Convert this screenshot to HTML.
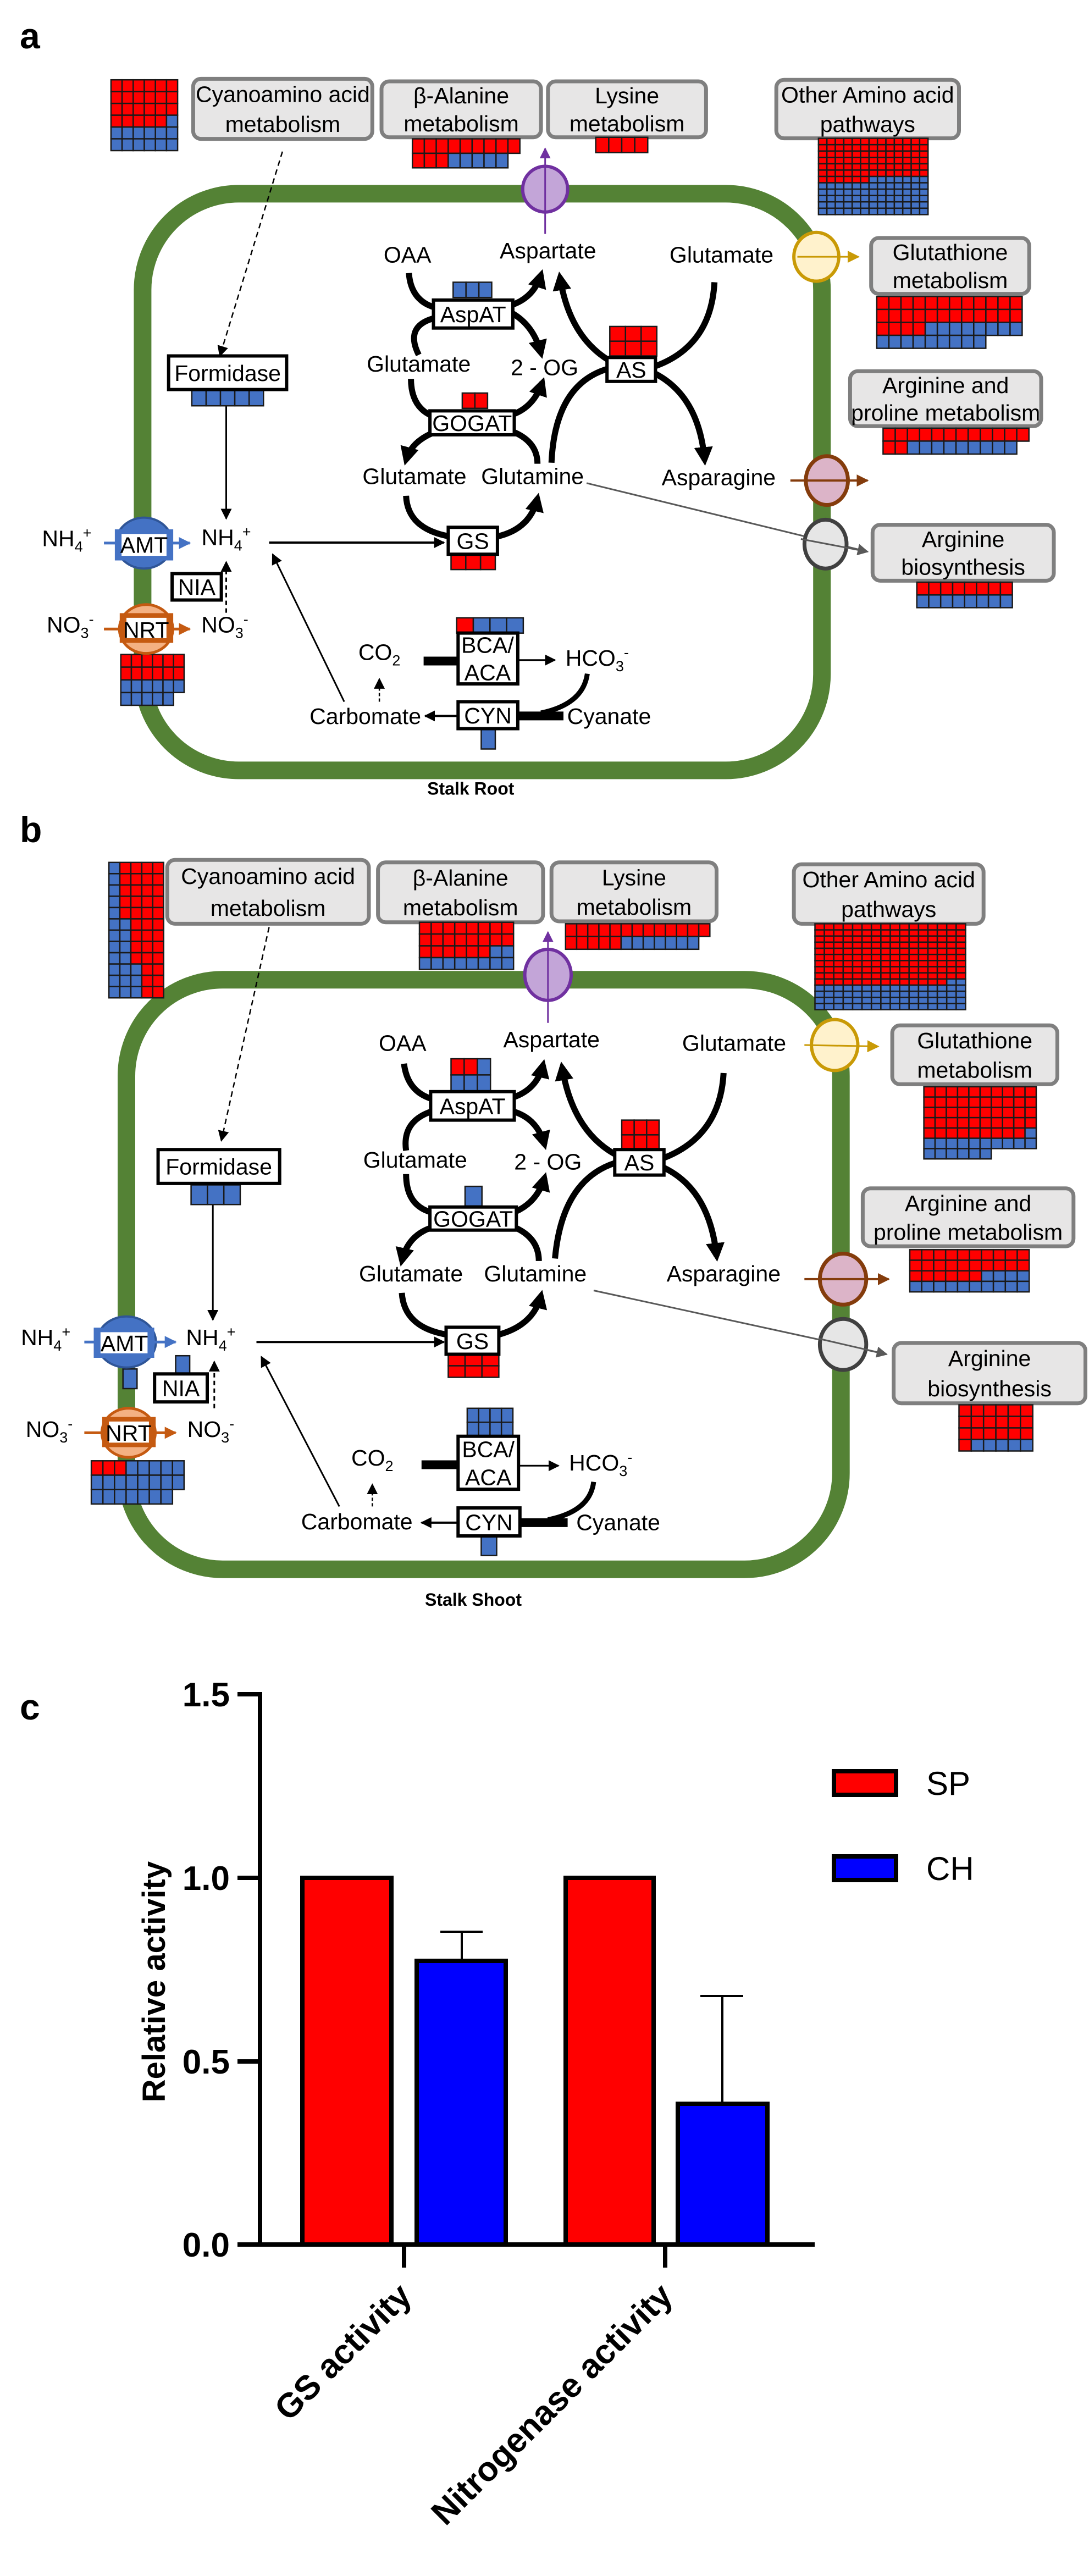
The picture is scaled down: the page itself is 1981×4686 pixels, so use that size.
<!DOCTYPE html>
<html><head><meta charset="utf-8"><style>
html,body{margin:0;padding:0;background:#fff;}
svg{display:block;font-family:"Liberation Sans",Arial,sans-serif;}
</style></head><body>
<svg id="s" xmlns="http://www.w3.org/2000/svg" width="1981" height="4686" viewBox="0 0 1981 4686">
<defs>
<marker id="ab" viewBox="0 0 10 10" refX="7" refY="5" markerWidth="34" markerHeight="34" markerUnits="userSpaceOnUse" orient="auto"><path d="M0,0 L10,5 L0,10z" fill="#000"/></marker>
<marker id="as" viewBox="0 0 10 10" refX="9" refY="5" markerWidth="20" markerHeight="20" markerUnits="userSpaceOnUse" orient="auto"><path d="M0,0 L10,5 L0,10z" fill="#000"/></marker>
<marker id="ag" viewBox="0 0 10 10" refX="9" refY="5" markerWidth="20" markerHeight="20" markerUnits="userSpaceOnUse" orient="auto"><path d="M0,0 L10,5 L0,10z" fill="#595959"/></marker>
<marker id="ap" viewBox="0 0 10 10" refX="9" refY="5" markerWidth="20" markerHeight="20" markerUnits="userSpaceOnUse" orient="auto"><path d="M0,0 L10,5 L0,10z" fill="#7030a0"/></marker>
<marker id="ay" viewBox="0 0 10 10" refX="9" refY="5" markerWidth="22" markerHeight="22" markerUnits="userSpaceOnUse" orient="auto"><path d="M0,0 L10,5 L0,10z" fill="#c99a06"/></marker>
<marker id="ao" viewBox="0 0 10 10" refX="9" refY="5" markerWidth="22" markerHeight="22" markerUnits="userSpaceOnUse" orient="auto"><path d="M0,0 L10,5 L0,10z" fill="#843c0c"/></marker>
<marker id="abl" viewBox="0 0 10 10" refX="9" refY="5" markerWidth="22" markerHeight="22" markerUnits="userSpaceOnUse" orient="auto"><path d="M0,0 L10,5 L0,10z" fill="#4472c4"/></marker>
<marker id="aor" viewBox="0 0 10 10" refX="9" refY="5" markerWidth="22" markerHeight="22" markerUnits="userSpaceOnUse" orient="auto"><path d="M0,0 L10,5 L0,10z" fill="#c55a11"/></marker>
</defs>
<g id="dyn"></g>
<g>
<text x="36" y="3128" font-size="66" font-weight="bold">c</text>
<line x1="473" y1="3078" x2="473" y2="4087" stroke="#000" stroke-width="8"/>
<line x1="432" y1="4083" x2="1482" y2="4083" stroke="#000" stroke-width="8"/>
<g stroke="#000" stroke-width="8">
<line x1="432" y1="3082" x2="473" y2="3082"/><line x1="432" y1="3416" x2="473" y2="3416"/>
<line x1="432" y1="3750" x2="473" y2="3750"/><line x1="735" y1="4083" x2="735" y2="4125"/>
<line x1="1210" y1="4083" x2="1210" y2="4125"/>
</g>
<g font-size="62" font-weight="bold" text-anchor="end">
<text x="418" y="3104">1.5</text><text x="418" y="3438">1.0</text>
<text x="418" y="3772">0.5</text><text x="418" y="4105">0.0</text>
</g>
<text transform="translate(300,3605) rotate(-90)" font-size="58" font-weight="bold" text-anchor="middle">Relative activity</text>
<g stroke="#000" stroke-width="8">
<rect x="550" y="3416" width="162" height="667" fill="#ff0000"/>
<rect x="758" y="3567" width="162" height="516" fill="#0000ff"/>
<rect x="1029" y="3416" width="160" height="667" fill="#ff0000"/>
<rect x="1233" y="3827" width="163" height="256" fill="#0000ff"/>
</g>
<g stroke="#000" stroke-width="4">
<line x1="840" y1="3567" x2="840" y2="3514"/><line x1="801" y1="3514" x2="878" y2="3514"/>
<line x1="1314" y1="3827" x2="1314" y2="3631"/><line x1="1274" y1="3631" x2="1352" y2="3631"/>
</g>
<rect x="1517" y="3222" width="113" height="43" fill="#ff0000" stroke="#000" stroke-width="8"/>
<rect x="1517" y="3377" width="113" height="43" fill="#0000ff" stroke="#000" stroke-width="8"/>
<text x="1685" y="3265" font-size="60">SP</text>
<text x="1685" y="3420" font-size="60">CH</text>
<g font-size="62" font-weight="bold" text-anchor="end">
<text transform="translate(752,4180) rotate(-45)">GS activity</text>
<text transform="translate(1227,4180) rotate(-45)">Nitrogenase activity</text>
</g>
</g>
</svg>
<script>
(function(){
var out='';
function mk(sx,sy,oy){return {sx:sx,sy:sy,X:function(z){return z*sx;},Y:function(z){return oy+z*sy;}};}
var A=mk(1.278,0.925,0), B=mk(1.278,0.893,1450);
function rep(s,n){return s.repeat(n);}
function T(p,zx,zy,s,size,w){size=size||41;w=w||'normal';
 out+='<text x="'+p.X(zx).toFixed(1)+'" y="'+(p.Y(zy)+size*0.36).toFixed(1)+'" font-size="'+size+'" font-weight="'+w+'" text-anchor="middle">'+s+'</text>';}
function R(p,x1,y1,x2,y2,st,fill,sw,rx){rx=rx||0;
 out+='<rect x="'+p.X(x1).toFixed(1)+'" y="'+p.Y(y1).toFixed(1)+'" width="'+(p.X(x2)-p.X(x1)).toFixed(1)+'" height="'+(p.Y(y2)-p.Y(y1)).toFixed(1)+'" rx="'+rx+'" fill="'+fill+'" stroke="'+st+'" stroke-width="'+sw+'"/>';}
function G(p,x,y,cw,ch,rows){rows.forEach(function(r,i){for(var j=0;j<r.length;j++){var c=r[j];
 out+='<rect x="'+p.X(x+j*cw).toFixed(1)+'" y="'+p.Y(y+i*ch).toFixed(1)+'" width="'+(cw*p.sx).toFixed(1)+'" height="'+(ch*p.sy).toFixed(1)+'" fill="'+(c=='r'?'#ff0000':'#4472c4')+'" stroke="#1a1a1a" stroke-width="2.5"/>';}});}
function D(p,d){return d.replace(/(-?[\d.]+),(-?[\d.]+)/g,function(m,a,b){return p.X(+a).toFixed(1)+','+p.Y(+b).toFixed(1);});}
function P(p,d,col,sw,mk,dash){out+='<path d="'+D(p,d)+'" fill="none" stroke="'+col+'" stroke-width="'+sw+'"'+(mk?' marker-end="url(#'+mk+')"':'')+(dash?' stroke-dasharray="'+dash+'"':'')+'/>';}
function E(p,cx,cy,rx,ry,fill,st,sw){out+='<ellipse cx="'+p.X(cx).toFixed(1)+'" cy="'+p.Y(cy).toFixed(1)+'" rx="'+(rx*p.sx).toFixed(1)+'" ry="'+(ry*p.sy).toFixed(1)+'" fill="'+fill+'" stroke="'+st+'" stroke-width="'+sw+'"/>';}
var NH4='NH<tspan font-size="27" dy="10">4</tspan><tspan font-size="27" dy="-25">+</tspan>';
var NO3='NO<tspan font-size="27" dy="10">3</tspan><tspan font-size="27" dy="-25">-</tspan>';
var CO2='CO<tspan font-size="27" dy="10">2</tspan>';
var HCO3='HCO<tspan font-size="27" dy="10">3</tspan><tspan font-size="27" dy="-25">-</tspan>';
function gbox(p,x1,y1,x2,y2,l1,l2){R(p,x1,y1,x2,y2,'#7f7f7f','#e7e6e6',7,14);var cx=(x1+x2)/2,cy=(y1+y2)/2,dh=(y2-y1)*0.25;T(p,cx,cy-dh,l1);T(p,cx,cy+dh,l2);}
function ebox(p,x1,y1,x2,y2,l){R(p,x1,y1,x2,y2,'#000','#fff',6);T(p,(x1+x2)/2,(y1+y2)/2,l);}

var p=A;
out+='<text x="36" y="88" font-size="66" font-weight="bold">a</text>';
R(p,203,381,1170,1515,'#548235','none',32,175);
P(p,'M402,298 L313,700','#000',2.5,'as','10,7');
P(p,'M322,798 L322,1020','#000',3,'as');
P(p,'M383,1067 L632,1067','#000',4,'as');
P(p,'M490,1380 L388,1090','#000',3,'as');
P(p,'M322,1205 L322,1105','#000',3,'as','8,6');
P(p,'M540,1380 L540,1335','#000',2.5,'as','6,4');
P(p,'M603,1300 L652,1300','#000',16);
P(p,'M737,1298 L790,1298','#000',3,'as');
P(p,'M652,1408 L605,1408','#000',4,'as');
P(p,'M737,1408 L802,1408','#000',16);
P(p,'M836,1325 Q830,1385 770,1402','#000',9);
P(p,'M835,950 L1235,1085','#595959',3,'ag');
P(p,'M582,537 Q585,592 620,605','#000',11);
P(p,'M596,698 Q575,640 620,625','#000',11);
P(p,'M728,600 Q760,585 770,540','#000',11,'ab');
P(p,'M728,615 Q760,640 770,695','#000',11,'ab');
P(p,'M585,745 Q585,800 615,818','#000',11);
P(p,'M730,815 Q760,800 772,752','#000',11,'ab');
P(p,'M615,852 Q585,870 578,905','#000',11,'ab');
P(p,'M765,912 Q765,870 732,850','#000',11);
P(p,'M578,975 Q580,1040 640,1055','#000',11);
P(p,'M708,1055 Q755,1040 765,980','#000',11,'ab');
P(p,'M785,910 Q790,755 866,725','#000',11);
P(p,'M1017,555 Q1012,680 933,720','#000',11);
P(p,'M866,708 Q810,660 797,545','#000',11,'ab');
P(p,'M933,735 Q995,780 1003,905','#000',11,'ab');
gbox(p,275,155,530,273,'Cyanoamino acid','metabolism');
gbox(p,543,160,770,270,'β-Alanine','metabolism');
gbox(p,780,160,1005,270,'Lysine','metabolism');
gbox(p,1105,157,1365,272,'Other Amino acid','pathways');
gbox(p,1240,468,1465,578,'Glutathione','metabolism');
gbox(p,1210,730,1482,838,'Arginine and','proline metabolism');
gbox(p,1242,1032,1500,1142,'Arginine','biosynthesis');
G(p,158,157,15.8,23.2,['rrrrrr','rrrrrr','rrrrrr','rrrrrb','bbbbbb','bbbbbb']);
G(p,587,273,17,28.5,['rrrrrrrrr','rrrbbbbb']);
G(p,848,270,18.5,30,['rrrr']);
var o=[];for(var i=0;i<6;i++)o.push(rep('r',13));o.push('rrrrrrbbbbbbb');for(i=0;i<5;i++)o.push(rep('b',13));
G(p,1165,272,12,12.5,o);
G(p,645,555,18.3,30,['bbb']);
G(p,658,773,18,30,['rr']);
G(p,642,1090,21,30,['rrr']);
G(p,868,642,22.3,29,['rrr','rrr']);
G(p,273,768,20.4,30,['bbbbb']);
G(p,172,1287,15,25,['rrrrrr','rrrrrr','bbbbbb','bbbbb']);
G(p,650,1215,23.7,30,['rbbb']);
G(p,685,1433,20,40,['b']);
G(p,1248,583,17.25,25.5,[rep('r',12),rep('r',12),'rrrr'+rep('b',8),rep('b',9)]);
G(p,1257,842,17.3,25.5,[rep('r',12),'rr'+rep('b',9)]);
G(p,1305,1145,17,25,[rep('r',8),rep('b',8)]);
ebox(p,617,590,730,645,'AspAT');
ebox(p,612,808,732,855,'GOGAT');
ebox(p,638,1037,708,1090,'GS');
ebox(p,864,703,933,750,'AS');
ebox(p,240,700,408,766,'Formidase');
ebox(p,245,1128,315,1180,'NIA');
R(p,652,1245,737,1345,'#000','#fff',6);T(p,694,1268,'BCA/');T(p,694,1322,'ACA');
ebox(p,652,1380,737,1433,'CYN');
T(p,580,500,'OAA');T(p,780,492,'Aspartate');T(p,1027,500,'Glutamate');
T(p,596,715,'Glutamate');T(p,775,722,'2 - OG');T(p,590,936,'Glutamate');
T(p,758,936,'Glutamine');T(p,1023,938,'Asparagine');
T(p,95,1058,NH4);T(p,322,1056,NH4);T(p,100,1228,NO3);T(p,320,1228,NO3);
T(p,540,1282,CO2);T(p,850,1293,HCO3);T(p,520,1408,'Carbomate');T(p,867,1408,'Cyanate');
T(p,670,1550,'Stalk Root',32,'bold');
E(p,776,372,32,45,'#c3a5d8','#7030a0',6);
P(p,'M776,460 L776,292','#7030a0',3,'ap');
E(p,1162,505,32,48,'#fff2cc','#c99a06',6);
P(p,'M1135,505 L1222,505','#c99a06',3,'ay');
E(p,1177,945,30,48,'#dcb4c8','#843c0c',7);
P(p,'M1125,945 L1235,945','#843c0c',4,'ao');
E(p,1175,1070,30,48,'#e6e6e6','#404040',7);
P(p,'M1140,1060 L1235,1085','#595959',3,'ag');
E(p,205,1068,40,50,'#4472c4','#2f5597',4);
R(p,165,1043,245,1100,'#4472c4','#4472c4',4);R(p,173,1050,237,1093,'none','#fff',0);T(p,205,1071,'AMT');
P(p,'M148,1068 L168,1068','#4472c4',5);P(p,'M245,1068 L270,1068','#4472c4',5,'abl');
E(p,208,1237,38,48,'#f4b183','#c55a11',5);
R(p,172,1208,245,1262,'#c55a11','#c55a11',4);R(p,180,1215,237,1255,'none','#fff',0);T(p,208,1238,'NRT');
P(p,'M148,1237 L172,1237','#c55a11',5);P(p,'M245,1237 L270,1237','#c55a11',5,'aor');

p=B;
out+='<text x="36" y="1532" font-size="66" font-weight="bold">b</text>';
R(p,180,372,1197,1573,'#548235','none',32,175);
P(p,'M383,265 L315,700','#000',2.5,'as','10,7');
P(p,'M303,830 L303,1065','#000',3,'as');
P(p,'M365,1110 L632,1110','#000',4,'as');
P(p,'M483,1445 L372,1140','#000',3,'as');
P(p,'M305,1245 L305,1150','#000',3,'as','8,6');
P(p,'M530,1445 L530,1400','#000',2.5,'as','6,4');
P(p,'M600,1360 L652,1360','#000',16);
P(p,'M738,1362 L795,1362','#000',3,'as');
P(p,'M652,1478 L600,1478','#000',4,'as');
P(p,'M740,1478 L808,1478','#000',16);
P(p,'M845,1395 Q840,1455 780,1472','#000',9);
P(p,'M845,1005 L1262,1135','#595959',3,'ag');
P(p,'M575,543 Q580,600 615,615','#000',11);
P(p,'M578,720 Q572,660 615,640','#000',11);
P(p,'M730,612 Q765,595 773,545','#000',11,'ab');
P(p,'M730,640 Q765,655 775,708','#000',11,'ab');
P(p,'M578,768 Q578,830 612,845','#000',11);
P(p,'M733,845 Q765,825 775,775','#000',11,'ab');
P(p,'M612,878 Q580,895 572,945','#000',11,'ab');
P(p,'M767,945 Q767,900 735,878','#000',11);
P(p,'M572,1010 Q575,1080 636,1095','#000',11);
P(p,'M710,1095 Q760,1075 770,1015','#000',11,'ab');
P(p,'M790,940 Q800,780 876,745','#000',11);
P(p,'M1030,562 Q1025,690 945,735','#000',11);
P(p,'M876,728 Q815,680 800,550','#000',11,'ab');
P(p,'M945,755 Q1010,800 1020,935','#000',11,'ab');
gbox(p,238,128,525,258,'Cyanoamino acid','metabolism');
gbox(p,538,133,773,255,'β-Alanine','metabolism');
gbox(p,785,133,1020,253,'Lysine','metabolism');
gbox(p,1130,137,1400,258,'Other Amino acid','pathways');
gbox(p,1270,465,1505,585,'Glutathione','metabolism');
gbox(p,1228,797,1528,915,'Arginine and','proline metabolism');
gbox(p,1272,1112,1545,1235,'Arginine','biosynthesis');
o=[];for(i=0;i<5;i++)o.push('brrrr');for(i=0;i<4;i++)o.push('bbrrr');for(i=0;i<3;i++)o.push('bbbrr');
G(p,155,133,15.6,23,o);
G(p,597,255,16.75,24,[rep('r',8),rep('r',8),'rrrrrrbb',rep('b',8)]);
G(p,805,258,15.8,26,[rep('r',13),'rrrrr'+rep('b',7)]);
o=[];for(i=0;i<9;i++)o.push(rep('r',16));o.push(rep('r',14)+'bb');for(i=0;i<4;i++)o.push(rep('b',16));
G(p,1160,258,13.4,12.5,o);
G(p,642,533,18.7,33,['rrb','bbb']);
G(p,662,793,24,40,['b']);
G(p,638,1135,24,23.5,['rrr','rrr']);
G(p,885,658,17.7,30,['rrr','rrr']);
G(p,272,790,23.3,40,['bbb']);
G(p,175,1165,20,40,['b']);
G(p,250,1138,20,37,['b']);
G(p,130,1352,16.5,29.3,['rrrbbbbb',rep('b',8),rep('b',7)]);
G(p,665,1245,16.25,28.5,['bbbb','bbbb']);
G(p,685,1505,22,40,['b']);
G(p,1315,590,16,21,[rep('r',10),rep('r',10),rep('r',10),rep('r',10),rep('r',9)+'b',rep('b',10),rep('b',6)]);
G(p,1295,922,17,21.5,[rep('r',10),rep('r',10),'rrrrrrbbbb',rep('b',10)]);
G(p,1365,1238,17.5,23.5,[rep('r',6),rep('r',6),rep('r',6),'rbbbbb']);
ebox(p,613,600,732,658,'AspAT');
ebox(p,612,835,735,882,'GOGAT');
ebox(p,635,1080,710,1135,'GS');
ebox(p,875,718,945,770,'AS');
ebox(p,225,718,398,787,'Formidase');
ebox(p,220,1175,295,1232,'NIA');
R(p,652,1302,738,1410,'#000','#fff',6);T(p,695,1328,'BCA/');T(p,695,1385,'ACA');
ebox(p,652,1448,740,1505,'CYN');
T(p,573,500,'OAA');T(p,785,493,'Aspartate');T(p,1045,500,'Glutamate');
T(p,591,738,'Glutamate');T(p,780,742,'2 - OG');T(p,585,970,'Glutamate');
T(p,762,970,'Glutamine');T(p,1030,970,'Asparagine');
T(p,65,1100,NH4);T(p,300,1100,NH4);T(p,70,1287,NO3);T(p,300,1287,NO3);
T(p,530,1345,CO2);T(p,855,1355,HCO3);T(p,508,1475,'Carbomate');T(p,880,1477,'Cyanate');
E(p,780,362,33,52,'#c3a5d8','#7030a0',6);
P(p,'M780,460 L780,275','#7030a0',3,'ap');
E(p,1188,505,33,52,'#fff2cc','#c99a06',6);
P(p,'M1145,505 L1250,508','#c99a06',3,'ay');
E(p,1200,982,33,52,'#dcb4c8','#843c0c',7);
P(p,'M1145,982 L1265,982','#843c0c',4,'ao');
E(p,1200,1115,33,52,'#e6e6e6','#404040',7);
P(p,'M1165,1103 L1262,1135','#595959',3,'ag');
E(p,180,1110,42,52,'#4472c4','#2f5597',4);
R(p,135,1083,218,1140,'#4472c4','#4472c4',4);R(p,143,1090,210,1133,'none','#fff',0);T(p,177,1112,'AMT');
P(p,'M120,1110 L138,1110','#4472c4',5);P(p,'M218,1110 L250,1110','#4472c4',5,'abl');
E(p,183,1295,38,50,'#f4b183','#c55a11',5);
R(p,147,1265,220,1322,'#c55a11','#c55a11',4);R(p,155,1272,212,1315,'none','#fff',0);T(p,183,1295,'NRT');
P(p,'M120,1295 L147,1295','#c55a11',5);P(p,'M220,1295 L250,1295','#c55a11',5,'aor');
out+='<text x="861" y="2921" font-size="32" font-weight="bold" text-anchor="middle">Stalk Shoot</text>';
document.getElementById('dyn').innerHTML=out;
})();
</script>
</body></html>
